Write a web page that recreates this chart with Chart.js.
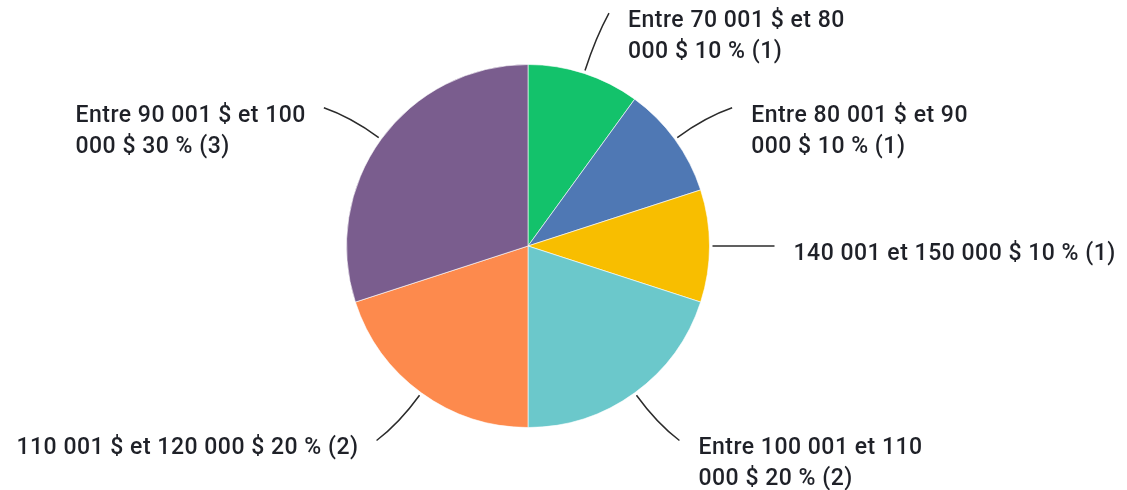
<!DOCTYPE html>
<html>
<head>
<meta charset="utf-8">
<script src="https://cdn.jsdelivr.net/npm/chart.js@4.4.4/dist/chart.umd.min.js"></script>
<style>
  html, body { margin: 0; padding: 0; background: #fff; }
  #wrap { position: relative; width: 1127px; height: 490px; }
</style>
</head>
<body>
<div id="wrap"><canvas id="c" width="1127" height="490"></canvas></div>
<script>
// Slices, clockwise from 12 o'clock
const sliceLabels = [
  ["Entre 70 001 $ et 80", "000 $ 10 % (1)"],
  ["Entre 80 001 $ et 90", "000 $ 10 % (1)"],
  ["140 001 et 150 000 $ 10 % (1)"],
  ["Entre 100 001 et 110", "000 $ 20 % (2)"],
  ["110 001 $ et 120 000 $ 20 % (2)"],
  ["Entre 90 001 $ et 100", "000 $ 30 % (3)"]
]
const counts = [1, 1, 1, 2, 2, 3]
const sliceColors = ["#13c26b", "#4f78b4", "#f8be00", "#6bc8cb", "#fd8a4d", "#7a5d8e"]

const FONT = "500 23px Roboto"
const TEXT_COLOR = "#1f2128"
const LINE_COLOR = "#2b2b2b"

// Curved leader lines + labels outside the pie
const outerLabels = {
  id: "outerLabels",
  afterDraw(chart) {
    const ctx = chart.ctx
    const meta = chart.getDatasetMeta(0)
    ctx.save()
    ctx.font = FONT
    ctx.letterSpacing = "0.5px"
    ctx.textBaseline = "middle"
    meta.data.forEach((arc, i) => {
      const { x, y, startAngle, endAngle, outerRadius } = arc.getProps(["x", "y", "startAngle", "endAngle", "outerRadius"], true)
      const mid = (startAngle + endAngle) / 2
      const r0 = outerRadius + 3
      const r1 = outerRadius + 38
      const r2 = outerRadius + 65
      const p0 = { x: x + Math.cos(mid) * r0, y: y + Math.sin(mid) * r0 }
      const cp = { x: x + Math.cos(mid) * r1, y: y + Math.sin(mid) * r1 }
      // end of the leader swings a little toward the horizontal
      const a2 = mid - 0.035 * Math.sin(2 * mid)
      const p2 = { x: x + Math.cos(a2) * r2, y: y + Math.sin(a2) * r2 }

      ctx.strokeStyle = LINE_COLOR
      ctx.lineWidth = 1.5
      ctx.beginPath()
      ctx.moveTo(p0.x, p0.y)
      ctx.quadraticCurveTo(cp.x, cp.y, p2.x, p2.y)
      ctx.stroke()

      const lines = chart.data.labels[i]
      const right = Math.cos(mid) >= -0.01
      const maxW = Math.max(...lines.map(l => ctx.measureText(l).width))
      const tx = right ? p2.x + 19 : p2.x - 18 - maxW
      ctx.fillStyle = TEXT_COLOR
      ctx.textAlign = "left"
      lines.forEach((ln, k) => {
        ctx.fillText(ln, tx, p2.y + 8 + k * 31)
      })
    })
    ctx.restore()
  }
}

new Chart(document.getElementById("c"), {
  type: "pie",
  data: {
    labels: sliceLabels,
    datasets: [{
      data: counts,
      backgroundColor: sliceColors,
      borderColor: "rgba(255,255,255,0.6)",
      borderWidth: 1
    }]
  },
  options: {
    responsive: false,
    animation: false,
    layout: { padding: { left: 346, right: 417, top: 64, bottom: 62 } },
    plugins: {
      legend: { display: false },
      tooltip: { enabled: false }
    }
  },
  plugins: [outerLabels]
})
</script>
</body>
</html>
